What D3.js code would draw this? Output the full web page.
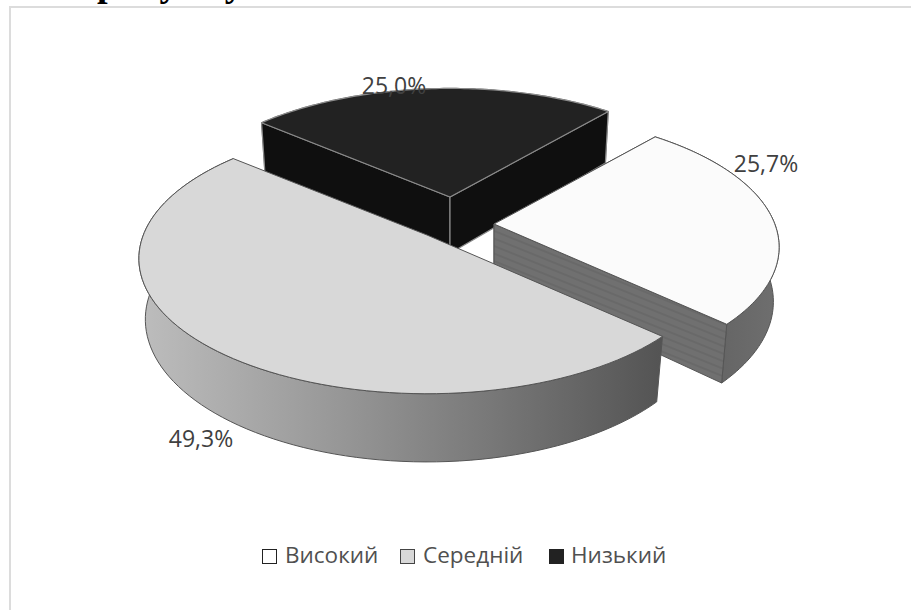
<!DOCTYPE html>
<html><head><meta charset="utf-8">
<script src="https://cdn.jsdelivr.net/npm/d3@7"></script>
<style>html,body{margin:0;padding:0;background:#fff;overflow:hidden}svg{display:block}</style>
</head><body><svg id="c" width="911" height="610"></svg>
<script>
const categories = ["Високий","Середній","Низький"];
const values = [25.7,49.3,25.0];
const labels = ["25,7%","49,3%","25,0%"];

const W=911,H=610;
const svg=d3.select("#c");
const cam={f:1440,D:5,t:27.5*Math.PI/180};
const s=Math.sin(cam.t),c=Math.cos(cam.t);
function proj(apex,theta,r,down,h){
  const X=r*Math.sin(theta),Y=-r*Math.cos(theta),Z=down?-h:0;
  const yc=Y*s-Z*c,zc=cam.D-Y*c-Z*s;
  return [apex[0]+cam.f*X/zc,apex[1]+cam.f*yc/zc];
}
const apexes=[[494,224],[427,235],[450,197]];
const radii=[.975,.985,.955];
const depth=[.215,.24,.225];
const tops=["#fbfbfb","#d8d8d8","#222222"];
const strokes=["#555","#555","#8a8a8a"];
const defs=svg.append("defs");
const g1=defs.append("linearGradient").attr("id","midWall").attr("gradientUnits","userSpaceOnUse")
 .attr("x1",140).attr("x2",665).attr("y1",0).attr("y2",0);
[[0,"#bdbdbd"],[.35,"#9a9a9a"],[.65,"#7a7a7a"],[1,"#535353"]].forEach(d=>g1.append("stop").attr("offset",d[0]).attr("stop-color",d[1]));
const g2=defs.append("linearGradient").attr("id","whiteWall").attr("gradientUnits","userSpaceOnUse")
 .attr("x1",725).attr("x2",780).attr("y1",0).attr("y2",0);
[[0,"#666"],[1,"#6f6f6f"]].forEach(d=>g2.append("stop").attr("offset",d[0]).attr("stop-color",d[1]));
const pat=defs.append("pattern").attr("id","stripes").attr("patternUnits","userSpaceOnUse").attr("width",8).attr("height",7)
 .attr("patternTransform","rotate(22)");
pat.append("rect").attr("width",8).attr("height",7).attr("fill","#707070");
pat.append("rect").attr("width",8).attr("height",2).attr("fill","#696969");
const wallArc=["url(#whiteWall)","url(#midWall)","#0c0c0c"];
const wallRad=["url(#stripes)",null,"#0f0f0f"];

const pie=d3.pie().sort(null).startAngle(40.5*Math.PI/180).endAngle((40.5+360)*Math.PI/180)(values);
const line=d3.line();
const poly=p=>line(p)+"Z";
const g=svg.append("g");
[2,0,1].forEach(i=>{
  const a=pie[i],A=apexes[i],R=radii[i],h=depth[i];
  const th=d3.range(0,1.0001,1/90).map(t=>a.startAngle+t*(a.endAngle-a.startAngle));
  const st=strokes[i];
  const wall=(pts,fill)=>g.append("path").attr("d",poly(pts)).attr("fill",fill).attr("stroke",st).attr("stroke-width",i==2?1.2:1).attr("stroke-linejoin","round");
  wall([...th.map(t=>proj(A,t,R,false,h)),...th.slice().reverse().map(t=>proj(A,t,R,true,h))],wallArc[i]);
  if(wallRad[i]) [a.startAngle,a.endAngle].forEach(t=>{
    wall([proj(A,t,0,false,h),proj(A,t,R,false,h),proj(A,t,R,true,h),proj(A,t,0,true,h)],wallRad[i]);
  });
  g.append("path").attr("d",poly([proj(A,0,0,false,h),...th.map(t=>proj(A,t,R,false,h))]))
   .attr("fill",tops[i]).attr("stroke",st).attr("stroke-width",i==2?1.2:1).attr("stroke-linejoin","round");
});
// frame
svg.append("path").attr("d",`M10,${H}V7H${W}`).attr("fill","none").attr("stroke","#dcdcdc").attr("stroke-width",2);
// heading fragment
svg.append("text").attr("x",97).attr("y",-4).attr("font-family","Liberation Serif").attr("font-size",38).attr("font-weight","bold").attr("fill","#000").attr("letter-spacing",1).text("рисунку");
// labels
const labelAt=[[766,172],[201,447],[394,94]];
labels.forEach((t,i)=>svg.append("text").attr("x",labelAt[i][0]).attr("y",labelAt[i][1]).attr("text-anchor","middle")
 .attr("font-family","Open Sans").attr("font-size",23).attr("fill","#404040").text(t));
// legend
const legX=[262,400,549],legT=[285,423,571],swatch=["#ffffff","#d8d8d8","#222222"],swStroke=["#222","#444","#222"];
categories.forEach((t,i)=>{
  svg.append("rect").attr("x",legX[i]+.5).attr("y",549.5).attr("width",14).attr("height",14).attr("fill",swatch[i]).attr("stroke",swStroke[i]);
  svg.append("text").attr("x",legT[i]).attr("y",563).attr("font-family","Open Sans").attr("font-size",22.5).attr("fill","#505050").text(t);
});
</script></body></html>
